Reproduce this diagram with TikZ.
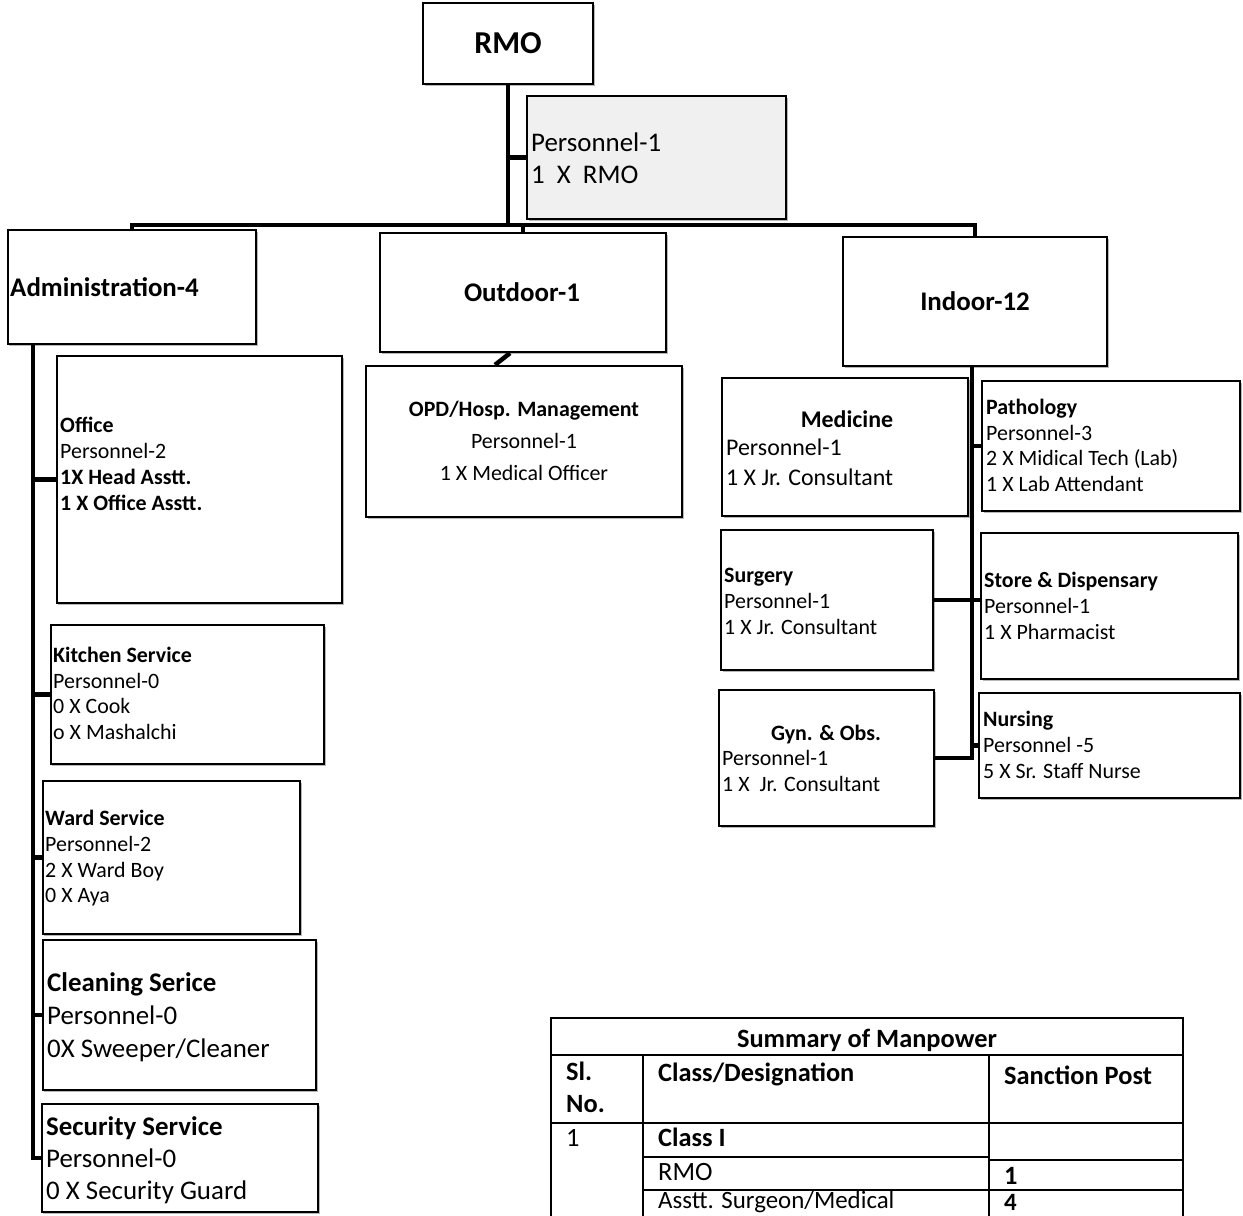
\documentclass[tikz,border=0pt]{standalone}
\usepackage{fontspec}
\setmainfont{Carlito}
\usetikzlibrary{shadows}
\newcommand\fsz[1]{\fontsize{#1}{#1}\selectfont}
\begin{document}
\begin{tikzpicture}[x=1bp,y=-1bp,
  box/.style={draw=black, line width=2.2bp, fill=white, inner sep=0pt,
    drop shadow={shadow xshift=1.5bp, shadow yshift=-2bp, fill=gray!70, opacity=0.8}},
  persbox/.style={box, fill=gray!12},
  conn/.style={line width=4.5bp, draw=black},
  tl/.style={inner sep=0pt, anchor=base west},
  tc/.style={inner sep=0pt, anchor=base},
  tline/.style={line width=1.8bp, draw=black}]
\useasboundingbox (0,0) rectangle (1243,1216);
\fill[white] (0,0) rectangle (1243,1216);

% ---------- boxes ----------
\node[box, minimum width=170bp, minimum height=81bp] (rmo) at (508,43.5) {};
\node[persbox, minimum width=259bp, minimum height=123bp] (pers) at (656.5,157.5) {};
\node[box, minimum width=248bp, minimum height=114bp] (admin) at (132,287) {};
\node[box, minimum width=286bp, minimum height=119bp] (outdoor) at (523,292.5) {};
\node[box, minimum width=264bp, minimum height=129bp] (indoor) at (975,301.5) {};
\node[box, minimum width=316bp, minimum height=151bp] (opd) at (524,441.5) {};
\node[box, minimum width=285bp, minimum height=247bp] (office) at (199.5,479.5) {};
\node[box, minimum width=273bp, minimum height=139bp] (kitchen) at (187.5,694.5) {};
\node[box, minimum width=257bp, minimum height=153bp] (ward) at (171.5,857.5) {};
\node[box, minimum width=273bp, minimum height=150bp] (cleaning) at (179.5,1015) {};
\node[box, minimum width=276bp, minimum height=108bp] (security) at (180,1158) {};
\node[box, minimum width=246bp, minimum height=138bp] (medicine) at (845,447) {};
\node[box, minimum width=258bp, minimum height=130bp] (pathology) at (1111,446) {};
\node[box, minimum width=212bp, minimum height=140bp] (surgery) at (827,600) {};
\node[box, minimum width=257bp, minimum height=146bp] (store) at (1109.5,606) {};
\node[box, minimum width=215bp, minimum height=136bp] (gyn) at (826.5,758) {};
\node[box, minimum width=261bp, minimum height=105bp] (nursing) at (1109.5,745.5) {};

% ---------- connectors ----------
\coordinate (bus) at (0,225);
\coordinate (atrunk) at (33,0);
\coordinate (itrunk) at (972,0);
\draw[conn] (rmo.south) -- (rmo.south |- bus);
\draw[conn] (rmo.south |- pers.west) -- (pers.west);
\draw[conn] (admin.north) |- (indoor.north |- bus) -- (indoor.north);
\draw[conn] (outdoor.north) -- (outdoor.north |- bus);
\draw[conn] ([xshift=-13bp]outdoor.south) -- ([xshift=-29bp]opd.north);
\draw[conn] (atrunk |- admin.south) |- (security.west);
\draw[conn] (atrunk |- office.west) -- (office.west);
\draw[conn] (atrunk |- kitchen.west) -- (kitchen.west);
\draw[conn] (atrunk |- ward.west) -- (ward.west);
\draw[conn] (atrunk |- cleaning.west) -- (cleaning.west);
\draw[conn] (itrunk |- indoor.south) |- (gyn.east);
\draw[conn] (itrunk |- pathology.west) -- (pathology.west);
\draw[conn] (surgery.east) -- (surgery.east -| store.west);
\draw[conn] (itrunk |- nursing.west) -- (nursing.west);

% ---------- texts ----------
\node[tc, font=\fsz{32}\bfseries] (tRmo) at (508,53.5) {RMO};
\node[tl, font=\fsz{27}] (tPers1) at (531,151) {Personnel-1};
\node[tl, font=\fsz{27}] (tPers2) at (531,183) {1\hspace{0.45em}X\hspace{0.45em}RMO};
\node[tl, font=\fsz{27}\bfseries] (tAdmin) at (10,296) {Administration-4};
\node[tc, font=\fsz{27}\bfseries] (tOut) at (522,301) {Outdoor-1};
\node[tc, font=\fsz{27}\bfseries] (tIn) at (975,310) {Indoor-12};

\node[tc, font=\fsz{22}\bfseries] (tOpd1) at (524,416) {OPD/Hosp. Management};
\node[tc, font=\fsz{22}] (tOpd2) at (524,448) {Personnel-1};
\node[tc, font=\fsz{22}] (tOpd3) at (524,480) {1 X Medical Officer};

\node[tl, font=\fsz{22}\bfseries] (tOff1) at (60,432) {Office};
\node[tl, font=\fsz{22}] (tOff2) at (60,458) {Personnel-2};
\node[tl, font=\fsz{22}\bfseries] (tOff3) at (60,484) {1X Head Asstt.};
\node[tl, font=\fsz{22}\bfseries] (tOff4) at (60,510) {1 X Office Asstt.};

\node[tl, font=\fsz{22}\bfseries] (tKit1) at (53,662) {Kitchen Service};
\node[tl, font=\fsz{22}] (tKit2) at (53,688) {Personnel-0};
\node[tl, font=\fsz{22}] (tKit3) at (53,713) {0 X Cook};
\node[tl, font=\fsz{22}] (tKit4) at (53,739) {o X Mashalchi};

\node[tl, font=\fsz{22}\bfseries] (tWard1) at (45,825) {Ward Service};
\node[tl, font=\fsz{22}] (tWard2) at (45,851) {Personnel-2};
\node[tl, font=\fsz{22}] (tWard3) at (45,877) {2 X Ward Boy};
\node[tl, font=\fsz{22}] (tWard4) at (45,902) {0 X Aya};

\node[tl, font=\fsz{27}\bfseries] (tCl1) at (47,991) {Cleaning Serice};
\node[tl, font=\fsz{27}] (tCl2) at (47,1024) {Personnel-0};
\node[tl, font=\fsz{27}] (tCl3) at (47,1057) {0X Sweeper/Cleaner};

\node[tl, font=\fsz{27}\bfseries] (tSec1) at (46,1135) {Security Service};
\node[tl, font=\fsz{27}] (tSec2) at (46,1167) {Personnel-0};
\node[tl, font=\fsz{27}] (tSec3) at (46,1199) {0 X Security Guard};

\node[tc, font=\fsz{24}\bfseries] (tMed1) at (847,427) {Medicine};
\node[tl, font=\fsz{24}] (tMed2) at (726,455) {Personnel-1};
\node[tl, font=\fsz{24}] (tMed3) at (726,485) {1 X Jr. Consultant};

\node[tl, font=\fsz{22}\bfseries] (tPat1) at (986,414) {Pathology};
\node[tl, font=\fsz{22}] (tPat2) at (986,440) {Personnel-3};
\node[tl, font=\fsz{22}] (tPat3) at (986,465) {2 X Midical Tech (Lab)};
\node[tl, font=\fsz{22}] (tPat4) at (986,491) {1 X Lab Attendant};

\node[tl, font=\fsz{22}\bfseries] (tSur1) at (724,582) {Surgery};
\node[tl, font=\fsz{22}] (tSur2) at (724,608) {Personnel-1};
\node[tl, font=\fsz{22}] (tSur3) at (724,634) {1 X Jr. Consultant};

\node[tl, font=\fsz{22}\bfseries] (tSto1) at (984,587) {Store \& Dispensary};
\node[tl, font=\fsz{22}] (tSto2) at (984,613) {Personnel-1};
\node[tl, font=\fsz{22}] (tSto3) at (984,639) {1 X Pharmacist};

\node[tc, font=\fsz{22}\bfseries] (tGyn1) at (826,740) {Gyn. \& Obs.};
\node[tl, font=\fsz{22}] (tGyn2) at (722,765) {Personnel-1};
\node[tl, font=\fsz{22}] (tGyn3) at (722,791) {1 X\ \ Jr. Consultant};

\node[tl, font=\fsz{22}\bfseries] (tNur1) at (983,726) {Nursing};
\node[tl, font=\fsz{22}] (tNur2) at (983,752) {Personnel -5};
\node[tl, font=\fsz{22}] (tNur3) at (983,778) {5 X Sr. Staff Nurse};

% ---------- table ----------
\draw[tline] (551,1230) -- (551,1018) -- (1183,1018) -- (1183,1230);
\draw[tline] (551,1055) -- (1183,1055);
\draw[tline] (551,1123) -- (1183,1123);
\draw[tline] (643,1055) -- (643,1230);
\draw[tline] (989,1055) -- (989,1230);
\draw[tline] (643,1157) -- (989,1157);
\draw[tline] (989,1160) -- (1183,1160);
\draw[tline] (643,1190) -- (1183,1190);

\node[tc, font=\fsz{26.5}\bfseries] (tTab) at (867,1047) {Summary of Manpower};
\node[tl, font=\fsz{26.5}\bfseries] (tSl) at (566,1080) {Sl.};
\node[tl, font=\fsz{26.5}\bfseries] (tNo) at (566,1112) {No.};
\node[tl, font=\fsz{26.5}\bfseries] (tCD) at (658,1081) {Class/Designation};
\node[tl, font=\fsz{26.5}\bfseries] (tSP) at (1004,1084) {Sanction Post};
\node[tl, font=\fsz{26.5}] (tR1) at (566,1146) {1};
\node[tl, font=\fsz{26.5}\bfseries] (tC1) at (658,1146) {Class I};
\node[tl, font=\fsz{26.5}] (tRmoT) at (658,1180) {RMO};
\node[tl, font=\fsz{26.5}\bfseries] (tRmoN) at (1004,1184) {1};
\node[tl, font=\fsz{25}] (tAs) at (658,1208) {Asstt. Surgeon/Medical};
\node[tl, font=\fsz{25}\bfseries] (tAsN) at (1004,1210) {4};
\end{tikzpicture}
\end{document}
